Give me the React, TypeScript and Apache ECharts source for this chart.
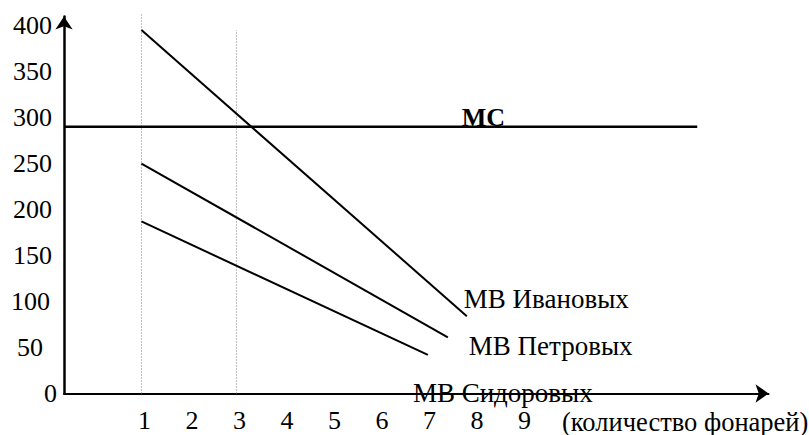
import React, { useEffect, useRef } from 'react';
import * as echarts from 'echarts';

// ---- data ----
const xTickLabels = [1, 2, 3, 4, 5, 6, 7, 8, 9];
const yTickLabels = [0, 50, 100, 150, 200, 250, 300, 350, 400];
const xAxisTitle = '(количество фонарей)';

const mcName = 'МС';
const mcValue = 290;
const mcX = [-0.63, 12.7];
const mcLabelX = 8.2;

const ivanovName = 'МВ Ивановых';
const ivanovX = [1, 7.85];
const ivanovY = [395, 84];

const petrovName = 'МВ Петровых';
const petrovX = [1, 7.45];
const petrovY = [250, 61];

const sidorovName = 'МВ Сидоровых';
const sidorovX = [1, 7.03];
const sidorovY = [187, 42];

const guideOneX = 1;
const guideOneY = [0, 414];
const guideThreeX = 3;
const guideThreeY = [0, 395];

const FONT = 'Liberation Serif';

export default function App() {
  const ref = useRef<HTMLDivElement>(null);

  useEffect(() => {
    if (!ref.current) return;
    const chart = echarts.init(ref.current, undefined, { renderer: 'svg' });

    const baseText = { color: '#000', fontFamily: FONT, fontSize: 26 };
    const seriesText = { color: '#000', fontFamily: FONT, fontSize: 27 };

    const endLabel = (text: string, offset: number[]) => ({
      show: true,
      position: 'right',
      distance: 0,
      offset,
      formatter: text,
      align: 'left',
      verticalAlign: 'middle',
      ...seriesText,
    });

    const demandLine = (name: string, xs: number[], ys: number[], offset: number[]) => ({
      type: 'line',
      name,
      showSymbol: true,
      symbol: 'circle',
      symbolSize: 0,
      lineStyle: { color: '#000', width: 2 },
      itemStyle: { color: '#000' },
      data: [
        [xs[0], ys[0]],
        { value: [xs[1], ys[1]], label: endLabel(name, offset) },
      ],
      z: 3,
    });

    const option: any = {
      animation: false,
      backgroundColor: '#fff',
      grid: { left: 64, right: 40.5, top: 16.5, bottom: 41.5 },
      xAxis: {
        type: 'value',
        min: -0.63,
        max: 14.2,
        axisLine: {
          show: true,
          onZero: true,
          symbol: ['none', 'arrow'],
          symbolSize: [14, 13],
          lineStyle: { color: '#000', width: 2 },
        },
        axisTick: { show: false },
        splitLine: { show: false },
        axisLabel: {
          customValues: xTickLabels,
          margin: 14,
          padding: [0, 0, 0, 6],
          ...baseText,
        },
      },
      yAxis: {
        type: 'value',
        min: 0,
        max: 409.8,
        axisLine: {
          show: true,
          onZero: false,
          symbol: ['none', 'arrow'],
          symbolSize: [13, 13],
          lineStyle: { color: '#000', width: 2.5 },
        },
        axisTick: { show: false },
        splitLine: { show: false },
        axisLabel: {
          customValues: yTickLabels,
          margin: 7,
          ...baseText,
          formatter: (v: number) => {
            if (v === 0) return '{c|0}';
            if (v === 50) return '{b|50}';
            if (v === 100) return '{d|100}';
            return '{a|' + v + '}';
          },
          rich: {
            a: { ...baseText, padding: [0, 5, 0, 0] },
            b: { ...baseText, padding: [0, 14, 0, 0] },
            c: { ...baseText, padding: [0, 0, 0, 0] },
            d: { ...baseText, padding: [0, 7, 0, 0] },
          },
        },
      },
      graphic: [
        {
          type: 'text',
          x: 562,
          y: 408,
          style: {
            text: xAxisTitle,
            fill: '#000',
            fontSize: 26.5,
            fontFamily: FONT,
            verticalAlign: 'top',
            align: 'left',
          },
        },
      ],
      series: [
        {
          type: 'line',
          name: 'guide1',
          symbol: 'none',
          clip: false,
          lineStyle: { color: '#777', width: 1, type: [1, 2] },
          data: [
            [guideOneX, guideOneY[0]],
            [guideOneX, guideOneY[1]],
          ],
          z: 1,
        },
        {
          type: 'line',
          name: 'guide3',
          symbol: 'none',
          clip: false,
          lineStyle: { color: '#777', width: 1, type: [1, 2] },
          data: [
            [guideThreeX, guideThreeY[0]],
            [guideThreeX, guideThreeY[1]],
          ],
          z: 1,
        },
        {
          type: 'line',
          name: mcName,
          showSymbol: true,
          symbol: 'circle',
          symbolSize: 0,
          lineStyle: { color: '#000', width: 2.6 },
          itemStyle: { color: '#000' },
          data: [
            [mcX[0], mcValue],
            {
              value: [mcLabelX, mcValue],
              label: {
                show: true,
                position: 'inside',
                offset: [0, -9.6],
                formatter: mcName,
                align: 'center',
                verticalAlign: 'middle',
                ...baseText,
                fontWeight: 'bold',
              },
            },
            [mcX[1], mcValue],
          ],
          z: 3,
        },
        demandLine(ivanovName, ivanovX, ivanovY, [-3, -17]),
        demandLine(petrovName, petrovX, petrovY, [21, 8.5]),
        demandLine(sidorovName, sidorovX, sidorovY, [-15, 38]),
      ],
    };

    chart.setOption(option);
    return () => chart.dispose();
  }, []);

  return (
    <div
      ref={ref}
      style={{ position: 'fixed', left: 0, top: 0, width: 809, height: 435, background: '#fff' }}
    />
  );
}
